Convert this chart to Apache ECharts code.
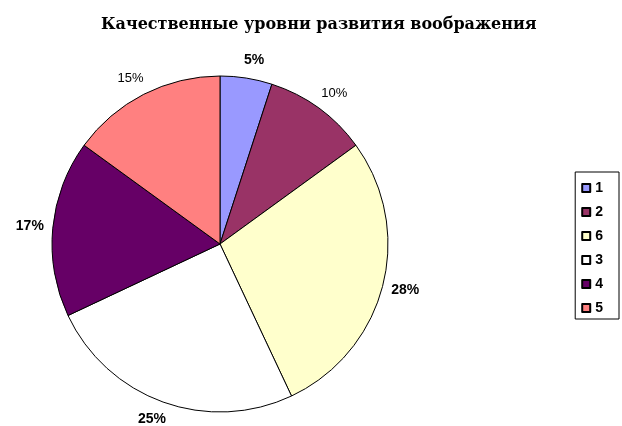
<!DOCTYPE html>
<html>
<head>
<meta charset="utf-8">
<script src="https://cdn.jsdelivr.net/npm/echarts@6/dist/echarts.min.js"></script>
<style>
  html, body { margin: 0; padding: 0; background: #fff; }
  #chart { width: 622px; height: 426px; }
</style>
</head>
<body>
<div id="chart"></div>
<script>
const categories = ["1", "2", "6", "3", "4", "5"];
const values = [5, 10, 28, 25, 17, 15];
const titleText = "Качественные уровни развития воображения";

const sliceColors = ["#9999FF", "#993366", "#FFFFCC", "#FFFFFF", "#660066", "#FF8080"];
const plainLabels = ["2", "5"];

const chart = echarts.init(document.getElementById("chart"), null, { renderer: "canvas" });

const option = {
  animation: false,
  title: {
    text: titleText,
    left: 101,
    top: 17,
    padding: 0,
    textStyle: {
      fontFamily: "DejaVu Serif",
      fontWeight: "bold",
      fontSize: 16,
      color: "#000",
    },
  },
  legend: {
    orient: "vertical",
    right: 3,
    top: 172,
    padding: [9, 16, 4, 6],
    borderColor: "#000",
    borderWidth: 1,
    borderRadius: 0,
    itemWidth: 8,
    itemHeight: 8,
    itemGap: 10,
    icon: "rect",
    textStyle: {
      fontFamily: "Liberation Sans",
      fontWeight: "bold",
      fontSize: 14,
      lineHeight: 14,
      color: "#000",
    },
    data: categories,
  },
  series: [
    {
      type: "pie",
      center: [220, 244],
      radius: 168,
      startAngle: 90,
      clockwise: true,
      avoidLabelOverlap: false,
      itemStyle: {
        borderColor: "#000",
        borderWidth: 1,
      },
      label: {
        show: true,
        position: "outside",
        formatter: "{d}%",
        fontFamily: "Liberation Sans",
        color: "#000",
        distanceToLabelLine: 5,
      },
      labelLine: { show: false, length: 18, length2: 0 },
      labelLayout: { align: "center" },
      emphasis: { disabled: true },
      data: categories.map((name, i) => {
        const plain = plainLabels.includes(name);
        return {
          name,
          value: values[i],
          itemStyle: { color: sliceColors[i] },
          label: {
            fontWeight: plain ? "normal" : "bold",
            fontSize: plain ? 13 : 14,
          },
        };
      }),
    },
  ],
};

chart.setOption(option);
</script>
</body>
</html>
